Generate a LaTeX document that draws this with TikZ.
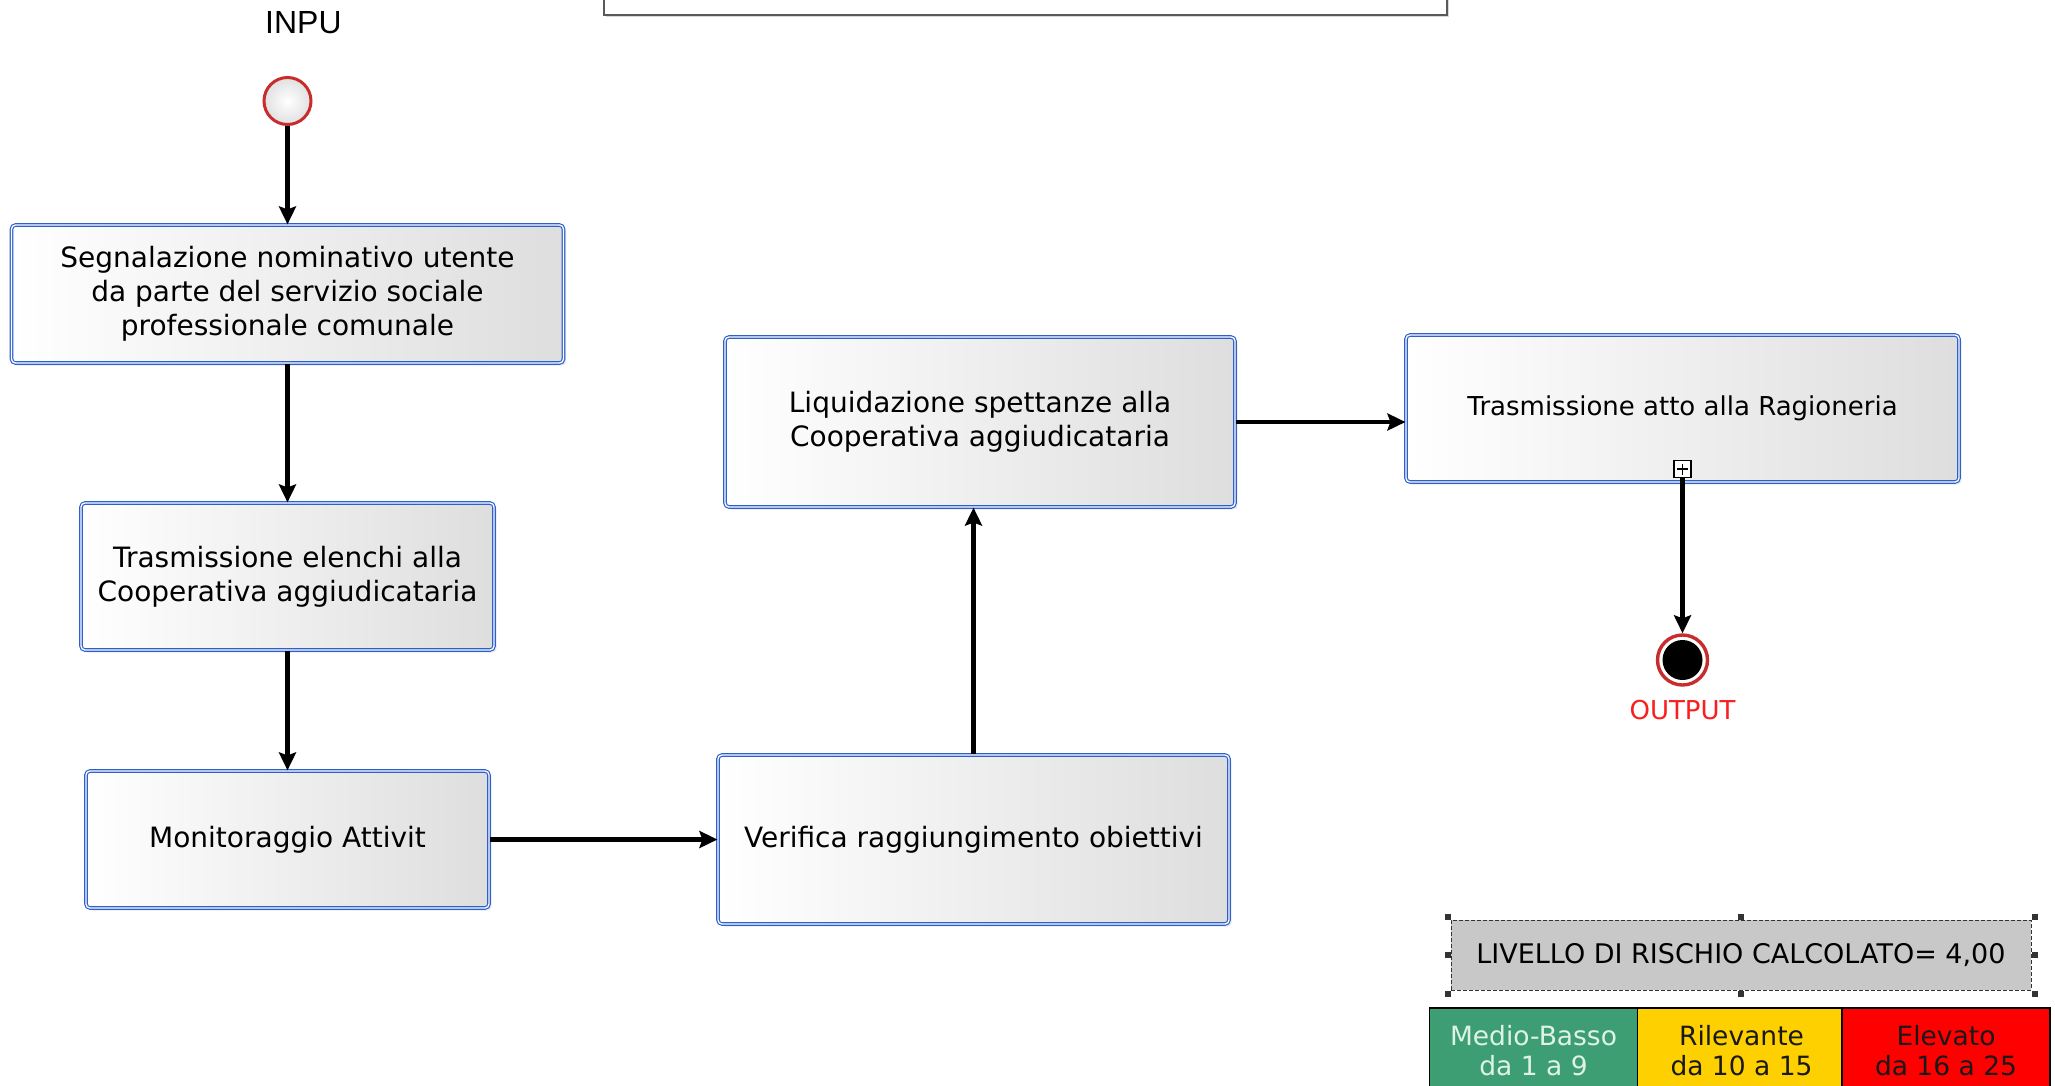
\documentclass[tikz,border=0pt]{standalone}
\usepackage{fontspec}
\setmainfont{DejaVu Sans}
\newfontfamily\arialf{Liberation Sans}
\usetikzlibrary{arrows.meta,shadows}
\definecolor{taskblue}{RGB}{45,95,205}
\definecolor{evred}{RGB}{200,45,45}
\definecolor{lowgreen}{RGB}{61,158,116}
\definecolor{lowtext}{RGB}{222,243,230}
\definecolor{midyellow}{RGB}{255,208,0}
\definecolor{outred}{RGB}{250,30,30}
\definecolor{riskgray}{RGB}{200,200,200}
\tikzset{
  task/.style={draw=taskblue, double=white, double distance=1.3pt, line width=1.15pt,
    rounded corners=4pt, left color=white, right color=black!13, align=center,
    inner sep=0pt, font=\fontsize{28}{34}\selectfont,
    drop shadow={opacity=0.18, shadow xshift=2.5pt, shadow yshift=-2.5pt}},
  flow/.style={line width=4.8pt, -{Stealth[length=18pt,width=17pt,inset=3pt]}},
  legcell/.style={draw=black, line width=1.5pt, minimum width=208, minimum height=86,
    inner sep=0pt, align=center, font=\fontsize{26.5}{30}\selectfont},
  handle/.style={fill=black!80, inner sep=0pt, minimum size=6pt}
}
\begin{document}
\begin{tikzpicture}[x=1pt,y=-1pt]
\useasboundingbox[fill=white] (0,0) rectangle (2055,1085);

% header box (cut off at the top)
\node[draw=black!65, line width=1.8pt, fill=white, minimum width=843, minimum height=40,
  inner sep=0pt, drop shadow={opacity=0.3, shadow xshift=1.5pt, shadow yshift=-2pt}]
  (hdr) at (1025.5,-5) {};

% INPUT label (clipped as in the picture)
\begin{scope}
\clip (200,0) rectangle (338,60);
\node[anchor=base west, inner sep=0pt, font=\arialf\fontsize{32}{36}\selectfont] (inlbl) at (265,33) {INPUT};
\end{scope}

% start event
\node[circle, draw=evred, line width=3pt, inner color=white, outer color=black!12,
  minimum size=47pt, inner sep=0pt] (start) at (287.5,101) {};

% tasks
\node[task, minimum width=552, minimum height=138] (b1) at (287.5,294)
  {Segnalazione nominativo utente\\da parte del servizio sociale\\professionale comunale};
\node[task, minimum width=413, minimum height=147] (b2) at (287.5,576.5)
  {Trasmissione elenchi alla\\Cooperativa aggiudicataria};
\node[task, minimum width=403, minimum height=137] (b3) at (287.5,839.5)
  {Monitoraggio Attivit};
\node[task, minimum width=511, minimum height=169] (b4) at (973.5,839.5)
  {Verifica raggiungimento obiettivi};
\node[task, minimum width=510, minimum height=170] (b5) at (980,422)
  {Liquidazione spettanze alla\\Cooperativa aggiudicataria};
\node[task, minimum width=553, minimum height=147, font=\fontsize{26}{32}\selectfont] (b6) at (1682.5,408.5)
  {Trasmissione atto alla Ragioneria};

% sub-process marker
\node[draw=black, line width=1.1pt, fill=white, minimum size=17pt, inner sep=0pt] (plus) at (1682.5,469) {};
\draw[line width=1.1pt] ([yshift=-5.5pt]plus.center) -- ([yshift=5.5pt]plus.center)
  ([xshift=-5.5pt]plus.center) -- ([xshift=5.5pt]plus.center);

% end event
\node[circle, draw=evred, line width=3.4pt, fill=white, minimum size=50pt, inner sep=0pt] (end) at (1682.5,660) {};
\node[circle, fill=black, minimum size=40pt, inner sep=0pt] (endin) at (end.center) {};
\node[text=outred, font=\fontsize{26}{30}\selectfont, inner sep=0pt] (outlbl) at (1682.5,710) {OUTPUT};

% connectors
\draw[flow] (start) -- (start |- b1.north);
\draw[flow] (b1) -- (b2);
\draw[flow] (b2) -- (b3);
\draw[flow] (b3) -- (b4);
\draw[flow] (b4.north) -- (b4.north |- b5.south);
\draw[flow] (b5.east) -- (b5.east -| b6.west);
\draw[flow] (plus.south) -- (end.north);

% risk level box
\node[draw=black!80, dashed, dash pattern=on 4pt off 2pt, line width=1pt, fill=riskgray,
  minimum width=580, minimum height=70, inner sep=0pt, font=\fontsize{27}{30}\selectfont]
  (risk) at (1741,955) {LIVELLO DI RISCHIO CALCOLATO= 4,00};
\foreach \a/\dx/\dy in {north west/-3/3, north/0/3, north east/3/3, west/-3/0, east/3/0,
  south west/-3/-3, south/0/-3, south east/3/-3}{
  \node[handle] at ([xshift=\dx pt, yshift=\dy pt]risk.\a) {};
}

% legend
\node[legcell, fill=lowgreen, text=lowtext] (lg1) at (1533.5,1051) {Medio-Basso\\da 1 a 9};
\node[legcell, fill=midyellow, text=black!90] (lg2) at (1741.5,1051) {Rilevante\\da 10 a 15};
\node[legcell, fill=red, text=black!90] (lg3) at (1946,1051) {Elevato\\da 16 a 25};
\end{tikzpicture}
\end{document}
